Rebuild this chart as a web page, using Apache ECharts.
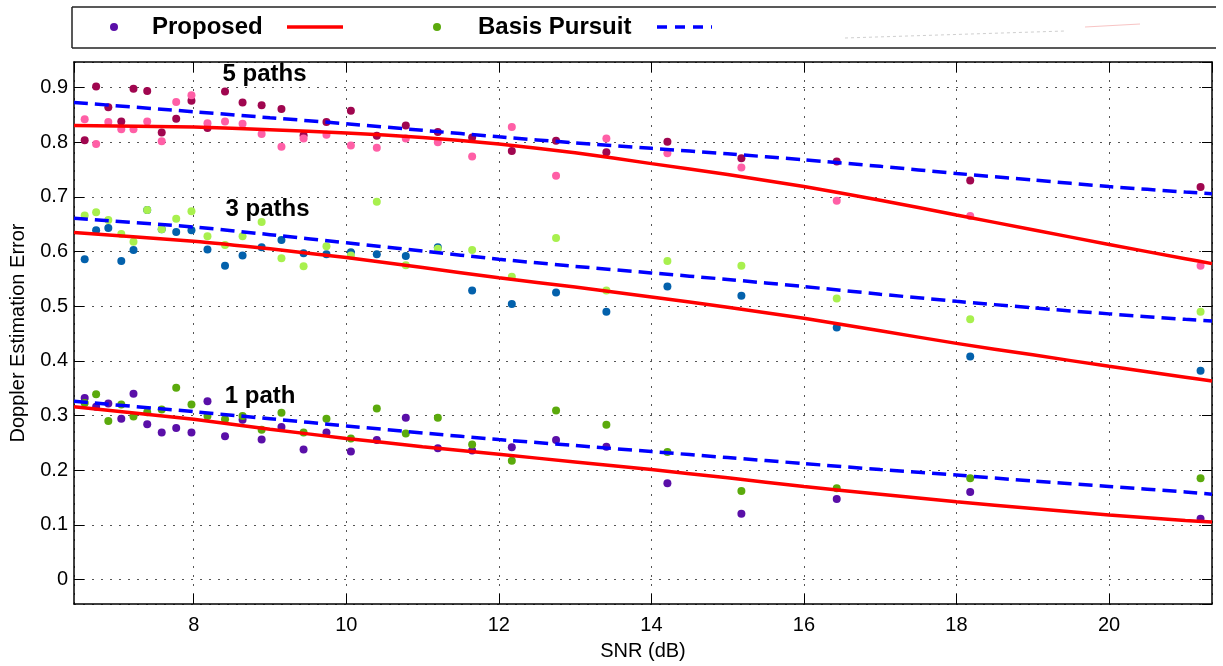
<!DOCTYPE html>
<html>
<head>
<meta charset="utf-8">
<script src="https://cdn.jsdelivr.net/npm/echarts@6/dist/echarts.min.js"></script>
<style>
html,body{margin:0;padding:0;background:#fff;}
#chart{width:1223px;height:666px;}
</style>
</head>
<body>
<div id="chart"></div>
<script>
// SNR values (dB) of the simulated points
const snr = [6.57, 6.72, 6.88, 7.05, 7.21, 7.39, 7.58, 7.77, 7.97, 8.18, 8.41, 8.64, 8.89, 9.15, 9.44, 9.74, 10.06, 10.40, 10.78, 11.20, 11.65, 12.17, 12.75, 13.41, 14.21, 15.18, 16.43, 18.18, 21.20];

// Scatter values
const proposed5 = [0.804, 0.902, 0.864, 0.838, 0.898, 0.894, 0.818, 0.843, 0.876, 0.826, 0.893, 0.873, 0.868, 0.861, 0.813, 0.837, 0.858, 0.812, 0.831, 0.819, 0.809, 0.784, 0.803, 0.782, 0.801, 0.771, 0.765, 0.730, 0.718];
const bp5 = [0.842, 0.797, 0.837, 0.824, 0.824, 0.838, 0.802, 0.874, 0.886, 0.835, 0.838, 0.834, 0.815, 0.792, 0.807, 0.814, 0.794, 0.790, 0.807, 0.800, 0.774, 0.828, 0.739, 0.807, 0.780, 0.754, 0.693, 0.665, 0.574];
const proposed3 = [0.586, 0.639, 0.643, 0.583, 0.603, 0.676, 0.641, 0.636, 0.639, 0.604, 0.574, 0.593, 0.608, 0.621, 0.597, 0.595, 0.599, 0.595, 0.592, 0.608, 0.529, 0.504, 0.525, 0.490, 0.536, 0.519, 0.461, 0.408, 0.382];
const bp3 = [0.666, 0.672, 0.658, 0.632, 0.618, 0.676, 0.641, 0.660, 0.674, 0.628, 0.612, 0.628, 0.654, 0.588, 0.573, 0.610, 0.593, 0.691, 0.575, 0.605, 0.603, 0.554, 0.625, 0.529, 0.583, 0.574, 0.514, 0.476, 0.490];
const proposed1 = [0.332, 0.316, 0.322, 0.294, 0.340, 0.284, 0.269, 0.277, 0.269, 0.326, 0.262, 0.292, 0.256, 0.279, 0.238, 0.269, 0.234, 0.255, 0.296, 0.240, 0.236, 0.242, 0.255, 0.243, 0.176, 0.120, 0.147, 0.160, 0.111];
const bp1 = [0.323, 0.339, 0.290, 0.320, 0.298, 0.306, 0.311, 0.351, 0.320, 0.299, 0.293, 0.299, 0.274, 0.305, 0.269, 0.294, 0.258, 0.313, 0.267, 0.296, 0.247, 0.217, 0.309, 0.283, 0.233, 0.162, 0.167, 0.185, 0.185];

// Fitted curves
const curveX = [6.43, 8, 9, 10, 11, 12, 13, 14, 15, 16, 17, 18, 19, 20, 21, 21.35];
const fitProposed5 = [0.831, 0.828, 0.823, 0.817, 0.809, 0.797, 0.781, 0.761, 0.741, 0.719, 0.694, 0.667, 0.640, 0.613, 0.587, 0.578];
const fitBp5 = [0.873, 0.856, 0.845, 0.834, 0.822, 0.810, 0.799, 0.789, 0.779, 0.768, 0.756, 0.743, 0.731, 0.719, 0.709, 0.706];
const fitProposed3 = [0.635, 0.619, 0.605, 0.589, 0.571, 0.552, 0.535, 0.517, 0.498, 0.478, 0.455, 0.432, 0.411, 0.390, 0.370, 0.363];
const fitBp3 = [0.661, 0.645, 0.631, 0.616, 0.601, 0.586, 0.573, 0.561, 0.549, 0.536, 0.522, 0.509, 0.497, 0.486, 0.476, 0.473];
const fitProposed1 = [0.316, 0.293, 0.275, 0.258, 0.243, 0.229, 0.215, 0.201, 0.186, 0.170, 0.156, 0.142, 0.130, 0.118, 0.108, 0.105];
const fitBp1 = [0.326, 0.307, 0.294, 0.281, 0.268, 0.256, 0.245, 0.234, 0.223, 0.212, 0.201, 0.191, 0.180, 0.170, 0.160, 0.156];

// Annotations
const labelText = ['5 paths', '3 paths', '1 path'];
const labelX = [8.37, 8.41, 8.40];
const labelY = [0.924, 0.678, 0.335];

const FONT = "'Liberation Sans', Arial, Helvetica, sans-serif";
const pts = ys => snr.map((x, i) => [x, ys[i]]);
const cpts = ys => curveX.map((x, i) => [x, ys[i]]);

function scatter(name, ys, color) {
  return { name, type: 'scatter', data: pts(ys), symbolSize: 8, itemStyle: { color, opacity: 1 }, z: 2, silent: true };
}
function curve(ys, color, dashed) {
  return {
    type: 'line', data: cpts(ys), showSymbol: false, symbol: 'none', smooth: 0.2, z: 3, silent: true,
    lineStyle: { color, width: 3.5, type: dashed ? [14, 7] : 'solid' }
  };
}

const X_MIN = 6.43, X_MAX = 21.35, Y_MIN = -0.045, Y_MAX = 0.947;

const chart = echarts.init(document.getElementById('chart'), null, { renderer: 'canvas' });
const option = {
  backgroundColor: '#fff',
  animation: false,
  grid: { left: 72, right: 11, top: 62, bottom: 56, containLabel: false },
  xAxis: [{
    type: 'value', min: X_MIN, max: X_MAX, splitNumber: 7, minInterval: 2, maxInterval: 2,
    axisLine: { show: true, onZero: false, lineStyle: { color: '#000', width: 1.5 } },
    axisTick: { show: true, inside: true, length: 10, lineStyle: { color: '#000', width: 1 } },
    axisLabel: { fontSize: 20, color: '#000', margin: 11, fontFamily: FONT, showMinLabel: false, showMaxLabel: false },
    splitLine: { show: true, lineStyle: { type: [2, 7], color: '#555', width: 1 } },
    name: 'SNR (dB)', nameLocation: 'middle', nameGap: 37,
    nameTextStyle: { fontSize: 20, color: '#000', fontFamily: FONT }
  }, {
    type: 'value', position: 'top', min: X_MIN, max: X_MAX, splitNumber: 7, minInterval: 2, maxInterval: 2,
    axisLine: { show: true, onZero: false, lineStyle: { color: '#000', width: 1.5 } },
    axisTick: { show: true, inside: true, length: 10, lineStyle: { color: '#000', width: 1 } },
    axisLabel: { show: false }, splitLine: { show: false }
  }],
  yAxis: [{
    type: 'value', min: Y_MIN, max: Y_MAX, splitNumber: 10, minInterval: 0.1, maxInterval: 0.1,
    axisLine: { show: true, onZero: false, lineStyle: { color: '#000', width: 1.5 } },
    axisTick: { show: true, inside: true, length: 10, lineStyle: { color: '#000', width: 1 } },
    axisLabel: { fontSize: 20, color: '#000', margin: 6, fontFamily: FONT, showMinLabel: false, showMaxLabel: false },
    splitLine: { show: true, lineStyle: { type: [2, 7], color: '#555', width: 1 } },
    name: 'Doppler Estimation Error', nameLocation: 'middle', nameGap: 46,
    nameTextStyle: { fontSize: 20, color: '#000', fontFamily: FONT }
  }, {
    type: 'value', position: 'right', min: Y_MIN, max: Y_MAX, splitNumber: 10, minInterval: 0.1, maxInterval: 0.1,
    axisLine: { show: true, onZero: false, lineStyle: { color: '#000', width: 1.5 } },
    axisTick: { show: true, inside: true, length: 10, lineStyle: { color: '#000', width: 1 } },
    axisLabel: { show: false }, splitLine: { show: false }
  }],
  series: [
    scatter('Proposed 5', proposed5, '#A0064F'),
    scatter('BP 5', bp5, '#FF5FA6'),
    scatter('Proposed 3', proposed3, '#0361AC'),
    scatter('BP 3', bp3, '#A8F04E'),
    scatter('Proposed 1', proposed1, '#5A0FA8'),
    scatter('BP 1', bp1, '#5BAA0C'),
    curve(fitProposed5, '#FF0000', false),
    curve(fitBp5, '#0000FF', true),
    curve(fitProposed3, '#FF0000', false),
    curve(fitBp3, '#0000FF', true),
    curve(fitProposed1, '#FF0000', false),
    curve(fitBp1, '#0000FF', true),
    {
      type: 'scatter', silent: true, z: 5, symbolSize: 1,
      itemStyle: { color: 'rgba(0,0,0,0)', opacity: 1 },
      data: labelText.map((t, i) => [labelX[i], labelY[i], t]),
      label: {
        show: true, position: 'right', distance: 0, opacity: 1,
        formatter: p => p.data[2],
        fontSize: 24, fontWeight: 'bold', color: '#000', fontFamily: FONT
      }
    }
  ],
  graphic: [
    { type: 'rect', shape: { x: 72, y: 7, width: 1144, height: 41 }, style: { fill: '#fff', stroke: null }, z: 10 },
    { type: 'line', shape: { x1: 72, y1: 7, x2: 1216, y2: 7 }, style: { stroke: '#222', lineWidth: 1.5 }, z: 11 },
    { type: 'line', shape: { x1: 72, y1: 48, x2: 1216, y2: 48 }, style: { stroke: '#222', lineWidth: 1.5 }, z: 11 },
    { type: 'line', shape: { x1: 72, y1: 7, x2: 72, y2: 48 }, style: { stroke: '#222', lineWidth: 1.5 }, z: 11 },
    { type: 'line', shape: { x1: 845, y1: 38, x2: 1065, y2: 31 }, style: { stroke: '#cfcfcf', lineWidth: 1, lineDash: [3, 3] }, z: 11 },
    { type: 'line', shape: { x1: 1085, y1: 27, x2: 1140, y2: 24 }, style: { stroke: '#f8c4c4', lineWidth: 1 }, z: 11 },
    { type: 'circle', shape: { cx: 114, cy: 27, r: 4 }, style: { fill: '#5A0FA8' }, z: 11 },
    { type: 'text', x: 152, y: 27, style: { text: 'Proposed', font: "bold 24px 'Liberation Sans', Arial, sans-serif", fill: '#000', verticalAlign: 'middle' }, z: 11 },
    { type: 'line', shape: { x1: 287, y1: 27, x2: 343, y2: 27 }, style: { stroke: '#FF0000', lineWidth: 3.5 }, z: 11 },
    { type: 'circle', shape: { cx: 437, cy: 27, r: 4 }, style: { fill: '#5BAA0C' }, z: 11 },
    { type: 'text', x: 478, y: 27, style: { text: 'Basis Pursuit', font: "bold 24px 'Liberation Sans', Arial, sans-serif", fill: '#000', verticalAlign: 'middle' }, z: 11 },
    { type: 'line', shape: { x1: 657, y1: 27, x2: 712, y2: 27 }, style: { stroke: '#0000FF', lineWidth: 3.5, lineDash: [10, 8] }, z: 11 }
  ]
};
chart.setOption(option);
</script>
</body>
</html>
